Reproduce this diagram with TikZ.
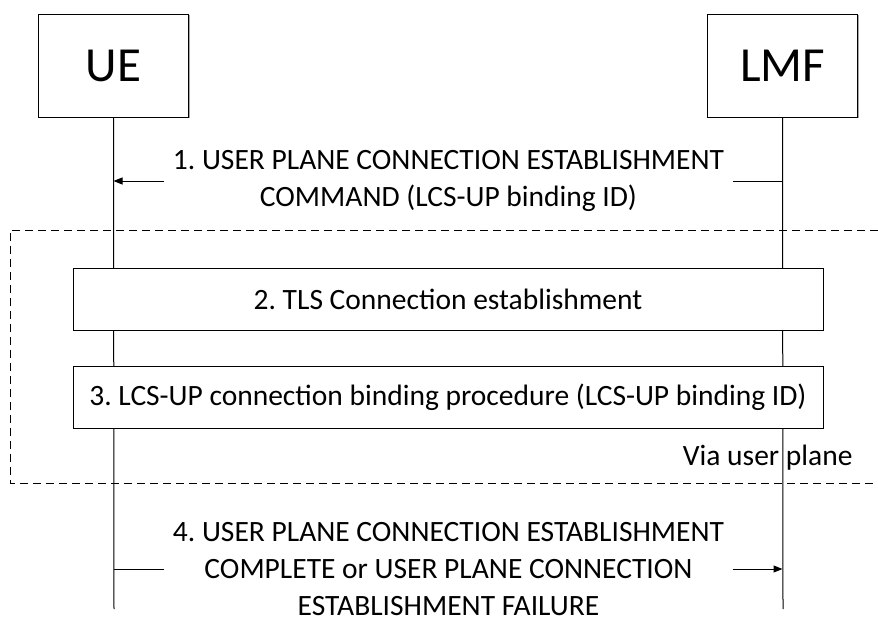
\documentclass[tikz,border=0pt]{standalone}
\usepackage{fontspec}
\setmainfont{Carlito}
\frenchspacing
\usetikzlibrary{arrows.meta,shadows}

\begin{document}
\begin{tikzpicture}[
    x = 1pt, y = -1pt,
    line width = 1pt,
    >={Triangle[length=9pt,width=7pt]},
    entity/.style = {
      draw,
      fill = white,
      minimum width = 150pt,
      minimum height = 103pt,
      drop shadow = {shadow xshift=1pt, shadow yshift=-1pt, fill=black!50, opacity=0.7},
      font = \fontsize{49}{56}\selectfont
    },
    procbox/.style = {
      draw,
      fill = white,
      minimum width = 750pt,
      minimum height = 62pt,
      drop shadow = {shadow xshift=1pt, shadow yshift=-1pt, fill=black!50, opacity=0.7},
      font = \fontsize{29.5}{37}\selectfont
    },
    msg/.style = {
      align = center,
      inner xsep = 8pt,
      inner ysep = 0pt,
      font = \fontsize{29.5}{37}\selectfont
    },
    frame/.style = {
      line width = 0.8pt,
      dash pattern = on 8pt off 5pt
    }
  ]
  \useasboundingbox (0,0) rectangle (878,616);

  % entities and lifelines
  \node[entity] (ue)  at (113.5,65.5) {UE};
  \node[entity] (lmf) at (782.5,65.5) {LMF};
  \coordinate (ueend)  at (114,609);
  \coordinate (lmfend) at (783,609);
  \draw (ue.south) -- (ueend);
  \draw (lmf.south) -- (lmfend);

  % step 1
  \node[msg] (cmd) at (448.5,181) {1. USER PLANE CONNECTION ESTABLISHMENT\\COMMAND (LCS-UP binding ID)};
  \draw (cmd.east -| lmf.south) -- (cmd.east);
  \draw[->] (cmd.west) -- (cmd.west -| ue.south);

  % user plane part
  \draw[frame] (878,230) -- (10,230) -- (10,483) -- (878,483);
  \node[procbox] (tls)  at (448,299) {2. TLS Connection establishment};
  \node[procbox] (bind) at (448,397) {3. LCS-UP connection binding procedure (LCS-UP binding ID)};
  \node[anchor=east, inner sep=0pt, font=\fontsize{29.5}{37}\selectfont] (via) at (853,458) {Via user plane};

  % step 4
  \node[msg] (done) at (448.5,569) {4. USER PLANE CONNECTION ESTABLISHMENT\\COMPLETE or USER PLANE CONNECTION\\ESTABLISHMENT FAILURE};
  \draw (done.west -| ue.south) -- (done.west);
  \draw[->] (done.east) -- (done.east -| lmf.south);
\end{tikzpicture}
\end{document}
